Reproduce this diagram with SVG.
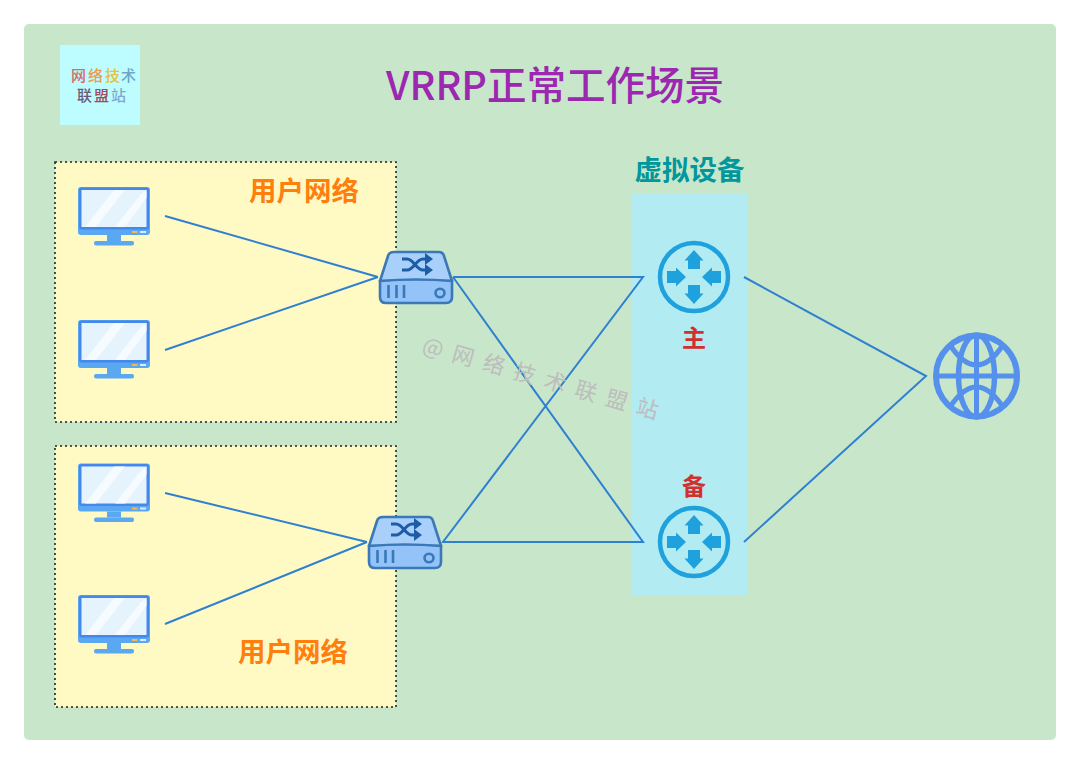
<svg xmlns="http://www.w3.org/2000/svg" xmlns:xlink="http://www.w3.org/1999/xlink" width="1080" height="764" viewBox="0 0 1080 764">
<style>
.cjk{font-family:"Noto Sans CJK SC","Noto Sans",sans-serif;font-weight:700}
.med{font-family:"Noto Sans CJK SC","Noto Sans",sans-serif;font-weight:500}
.zone{fill:#fff9c4;stroke:#222;stroke-width:1.6;stroke-dasharray:2 3}
.lbl{font-size:27.5px;fill:#ff7f0e}
.c{fill:none;stroke:#2f80d0;stroke-width:2}
.logo{font-family:"Noto Sans CJK SC",sans-serif;font-size:15px;font-weight:500}
</style>
<defs>
<g id="pc">
<rect x="0" y="0" width="72" height="48" rx="3" fill="#5aa8f2"/>
<rect x="1" y="0.500" width="70" height="42" rx="2.500" fill="#4488ee"/>
<rect x="3.500" y="3" width="65" height="37" fill="#e4f3fc"/>
<path d="M7 40 L36 3 H47 L18 40Z M37 40 L62 8 L68.500 3 V11 L47 40Z" fill="#f6fbff"/>
<rect x="54" y="44" width="5.500" height="2" fill="#f0b94a"/>
<rect x="62" y="44" width="6" height="2" fill="#d6ecfb"/>
<rect x="29" y="48" width="14" height="6" fill="#5aa8f2"/>
<rect x="16" y="54" width="40" height="4.500" rx="2" fill="#5aa8f2"/>
</g>
<g id="sw">
<path d="M15 1 H60 Q64 1 65 5 L73 30 H1 L9 5 Q10 1 15 1Z" fill="#a9d0fb" stroke="#3a78b8" stroke-width="2.600" stroke-linejoin="round"/>
<path d="M1 30 Q37 27 73 30 V46 Q73 52 67 52 H7 Q1 52 1 46Z" fill="#93c3f8" stroke="#3a78b8" stroke-width="2.600"/>
<path d="M23 8 H28 C35 8 37 19 44 19 H49 M23 19 H28 C35 19 37 8 44 8 H49" fill="none" stroke="#1e5da6" stroke-width="3"/>
<path d="M46 2 L54 8 L46 14Z M46 13 L54 19 L46 25Z" fill="#1e5da6"/>
<path d="M9.500 34 V47 M17.500 34 V47 M25 34 V47" stroke="#3a78b8" stroke-width="2.600" fill="none"/>
<ellipse cx="61" cy="42" rx="4.500" ry="4.200" fill="none" stroke="#3a78b8" stroke-width="2.600"/>
</g>
<g id="rt">
<circle cx="0" cy="0" r="34" fill="none" stroke="#1ea1dc" stroke-width="4.500"/>
<path d="M0 -27 L-9.500 -16.500 H-6 V-8 H6 V-16.500 H9.500Z" fill="#1ea1dc"/>
<path d="M0 27 L-9.500 16.500 H-6 V8 H6 V16.500 H9.500Z" fill="#1ea1dc"/>
<path d="M-8 0 L-18 -9.500 V-6 H-27 V6 H-18 V9.500Z" fill="#1ea1dc"/>
<path d="M8 0 L18 -9.500 V-6 H27 V6 H18 V9.500Z" fill="#1ea1dc"/>
</g>
</defs>
<rect x="0" y="0" width="1080" height="764" fill="#fff"/>
<rect x="24" y="24" width="1032" height="716" rx="5" fill="#c8e6c9"/>

<g id="logo">
<rect x="60" y="45" width="80" height="80" fill="#bdfcff"/>
<text class="logo" x="71" y="81" fill="#d46a6a">网</text>
<text class="logo" x="88" y="81" fill="#eb9a50">络</text>
<text class="logo" x="105" y="81" fill="#e6c040">技</text>
<text class="logo" x="121" y="81" fill="#6fa6c8">术</text>
<text class="logo" x="77" y="101" fill="#6a5a70">联</text>
<text class="logo" x="94" y="101" fill="#a04a60">盟</text>
<text class="logo" x="111" y="101" fill="#7fa8d0">站</text>
</g>
<text id="title" x="555" y="100" text-anchor="middle" class="med" font-size="39.500" fill="#9c27b0">VRRP正常工作场景</text>

<g id="zone-top"><rect class="zone" x="55" y="162" width="341" height="260"/><text class="cjk lbl" x="304" y="201" text-anchor="middle">用户网络</text></g>
<g id="zone-bottom"><rect class="zone" x="55" y="446" width="341" height="261"/><text class="cjk lbl" x="293" y="662" text-anchor="middle">用户网络</text></g>
<g id="virtual"><rect x="632" y="193" width="115" height="403" fill="#b2ebf2"/><text class="cjk" x="689.500" y="180" text-anchor="middle" font-size="27.500" fill="#00979d">虚拟设备</text></g>

<g id="connectors">
<path class="c" d="M165 216 L378 277 M165 350 L378 277 M165 493 L367 542 M165 624 L367 542"/>
<path class="c" d="M453 277 H643 L443 542 H643 L453 277"/>
<path class="c" d="M744 277 L926 376 L744 542"/>
</g>

<g id="pc1"><use xlink:href="#pc" href="#pc" x="78" y="187"/></g>
<g id="pc2"><use xlink:href="#pc" href="#pc" x="78" y="320"/></g>
<g id="pc3"><use xlink:href="#pc" href="#pc" x="78" y="463.500"/></g>
<g id="pc4"><use xlink:href="#pc" href="#pc" x="78" y="595"/></g>
<g id="sw1"><use xlink:href="#sw" href="#sw" x="379" y="251"/></g>
<g id="sw2"><use xlink:href="#sw" href="#sw" x="368" y="516"/></g>
<g id="router-master"><use xlink:href="#rt" href="#rt" x="694" y="277"/><text class="cjk" x="694" y="347" text-anchor="middle" font-size="24" fill="#d32f2f">主</text></g>
<g id="router-backup"><use xlink:href="#rt" href="#rt" x="694" y="542"/><text class="cjk" x="694" y="495" text-anchor="middle" font-size="24" fill="#d32f2f">备</text></g>
<g id="internet" fill="none" stroke="#5591ec" stroke-width="5.500">
<circle cx="976.500" cy="376" r="40.500" stroke-width="6"/>
<ellipse cx="976.500" cy="376" rx="18" ry="41"/>
<path d="M976.500 335 V417 M935.500 376 H1017.500 M950 345 Q976.500 385 1003 345 M950 407 Q976.500 367 1003 407" stroke-width="5"/>
</g>
<text id="watermark" transform="translate(421 352) rotate(16)" font-family="'Noto Sans CJK SC',sans-serif" font-size="22" letter-spacing="2.500" fill="#bdbdbd">@ 网 络 技 术 联 盟 站</text>
</svg>
